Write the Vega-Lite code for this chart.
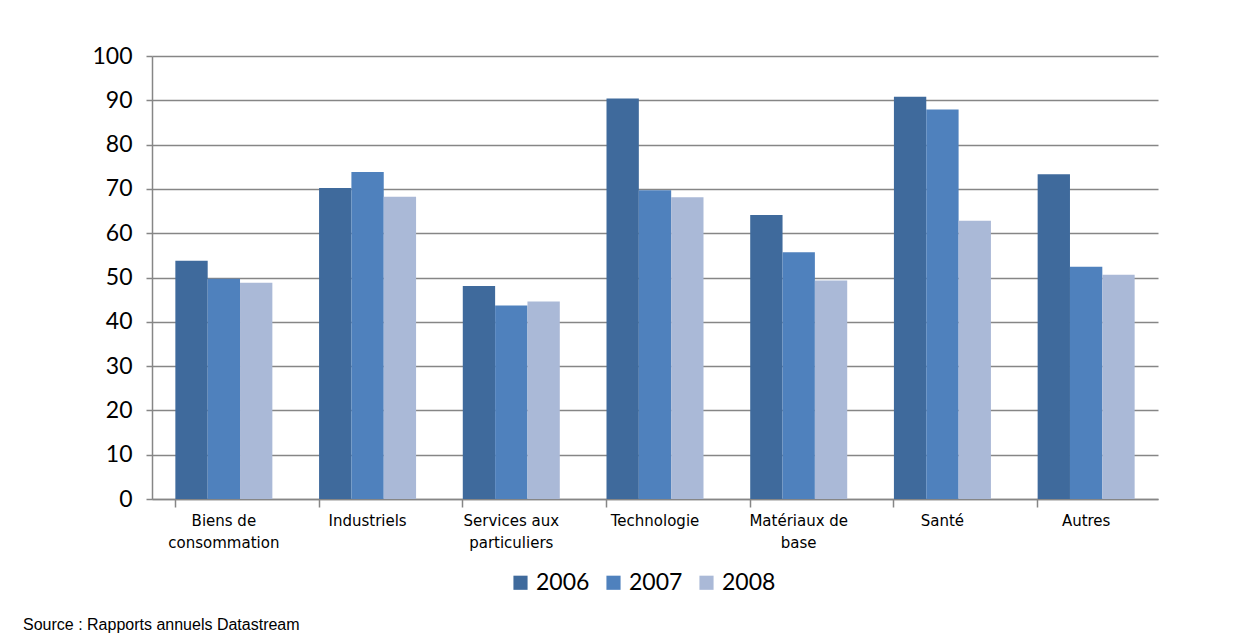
{
  "$schema": "https://vega.github.io/schema/vega-lite/v6.json",
  "autosize": {"type": "none"},
  "width": 1006,
  "height": 443,
  "padding": {"left": 152, "top": 56, "right": 87, "bottom": 140},
  "background": "white",
  "title": {
    "text": "Source : Rapports annuels Datastream",
    "orient": "bottom",
    "anchor": "start",
    "frame": "group",
    "font": "Liberation Sans",
    "fontSize": 16,
    "fontWeight": "normal",
    "color": "black",
    "dx": -129,
    "offset": 22
  },
  "data": {
    "values": [
      {"secteur": "Biens de consommation", "annee": "2006", "valeur": 53.8},
      {"secteur": "Biens de consommation", "annee": "2007", "valeur": 49.7},
      {"secteur": "Biens de consommation", "annee": "2008", "valeur": 48.8},
      {"secteur": "Industriels", "annee": "2006", "valeur": 70.2},
      {"secteur": "Industriels", "annee": "2007", "valeur": 73.8},
      {"secteur": "Industriels", "annee": "2008", "valeur": 68.2},
      {"secteur": "Services aux particuliers", "annee": "2006", "valeur": 48.1},
      {"secteur": "Services aux particuliers", "annee": "2007", "valeur": 43.7},
      {"secteur": "Services aux particuliers", "annee": "2008", "valeur": 44.6},
      {"secteur": "Technologie", "annee": "2006", "valeur": 90.4},
      {"secteur": "Technologie", "annee": "2007", "valeur": 69.7},
      {"secteur": "Technologie", "annee": "2008", "valeur": 68.1},
      {"secteur": "Matériaux de base", "annee": "2006", "valeur": 64.1},
      {"secteur": "Matériaux de base", "annee": "2007", "valeur": 55.7},
      {"secteur": "Matériaux de base", "annee": "2008", "valeur": 49.3},
      {"secteur": "Santé", "annee": "2006", "valeur": 90.8},
      {"secteur": "Santé", "annee": "2007", "valeur": 87.9},
      {"secteur": "Santé", "annee": "2008", "valeur": 62.8},
      {"secteur": "Autres", "annee": "2006", "valeur": 73.3},
      {"secteur": "Autres", "annee": "2007", "valeur": 52.4},
      {"secteur": "Autres", "annee": "2008", "valeur": 50.6}
    ]
  },
  "mark": {"type": "bar"},
  "encoding": {
    "x": {
      "field": "secteur",
      "type": "nominal",
      "sort": null,
      "scale": {"paddingInner": 0.325, "paddingOuter": 0.1625},
      "axis": {
        "title": null,
        "labelAngle": 0,
        "labelFont": "DejaVu Sans",
        "labelFontSize": 15,
        "labelColor": "black",
        "labelPadding": 6,
        "labelLineHeight": 22,
        "labelBaseline": "top",
        "bandPosition": 0,
        "ticks": true,
        "tickSize": 8,
        "tickColor": "#868686",
        "tickWidth": 1.5,
        "domainColor": "#868686",
        "domainWidth": 1.5,
        "grid": false,
        "labelExpr": "datum.label == 'Biens de consommation' ? ['Biens de', 'consommation'] : datum.label == 'Services aux particuliers' ? ['Services aux', 'particuliers'] : datum.label == 'Matériaux de base' ? ['Matériaux de', 'base'] : datum.label"
      }
    },
    "xOffset": {"field": "annee", "type": "nominal", "scale": {"paddingInner": 0, "paddingOuter": 0}},
    "y": {
      "field": "valeur",
      "type": "quantitative",
      "scale": {"domain": [0, 100], "nice": false},
      "axis": {
        "title": null,
        "values": [0, 10, 20, 30, 40, 50, 60, 70, 80, 90, 100],
        "labelFont": "Lato",
        "labelFontSize": 23,
        "labelColor": "black",
        "labelPadding": 14,
        "tickSize": 6,
        "tickColor": "#868686",
        "tickWidth": 1.5,
        "domainColor": "#868686",
        "domainWidth": 1.5,
        "grid": true,
        "gridColor": "#868686",
        "gridWidth": 1.5
      }
    },
    "color": {
      "field": "annee",
      "type": "nominal",
      "scale": {"domain": ["2006", "2007", "2008"], "range": ["#3F6A9C", "#4F81BD", "#AAB9D7"]},
      "legend": {
        "title": null,
        "orient": "none",
        "legendX": 357,
        "legendY": 515,
        "direction": "horizontal",
        "symbolType": "square",
        "symbolSize": 200,
        "symbolStrokeWidth": 0,
        "labelFont": "Lato",
        "labelFontSize": 23,
        "labelColor": "black",
        "columnPadding": 12
      }
    }
  },
  "config": {"view": {"stroke": null}}
}
